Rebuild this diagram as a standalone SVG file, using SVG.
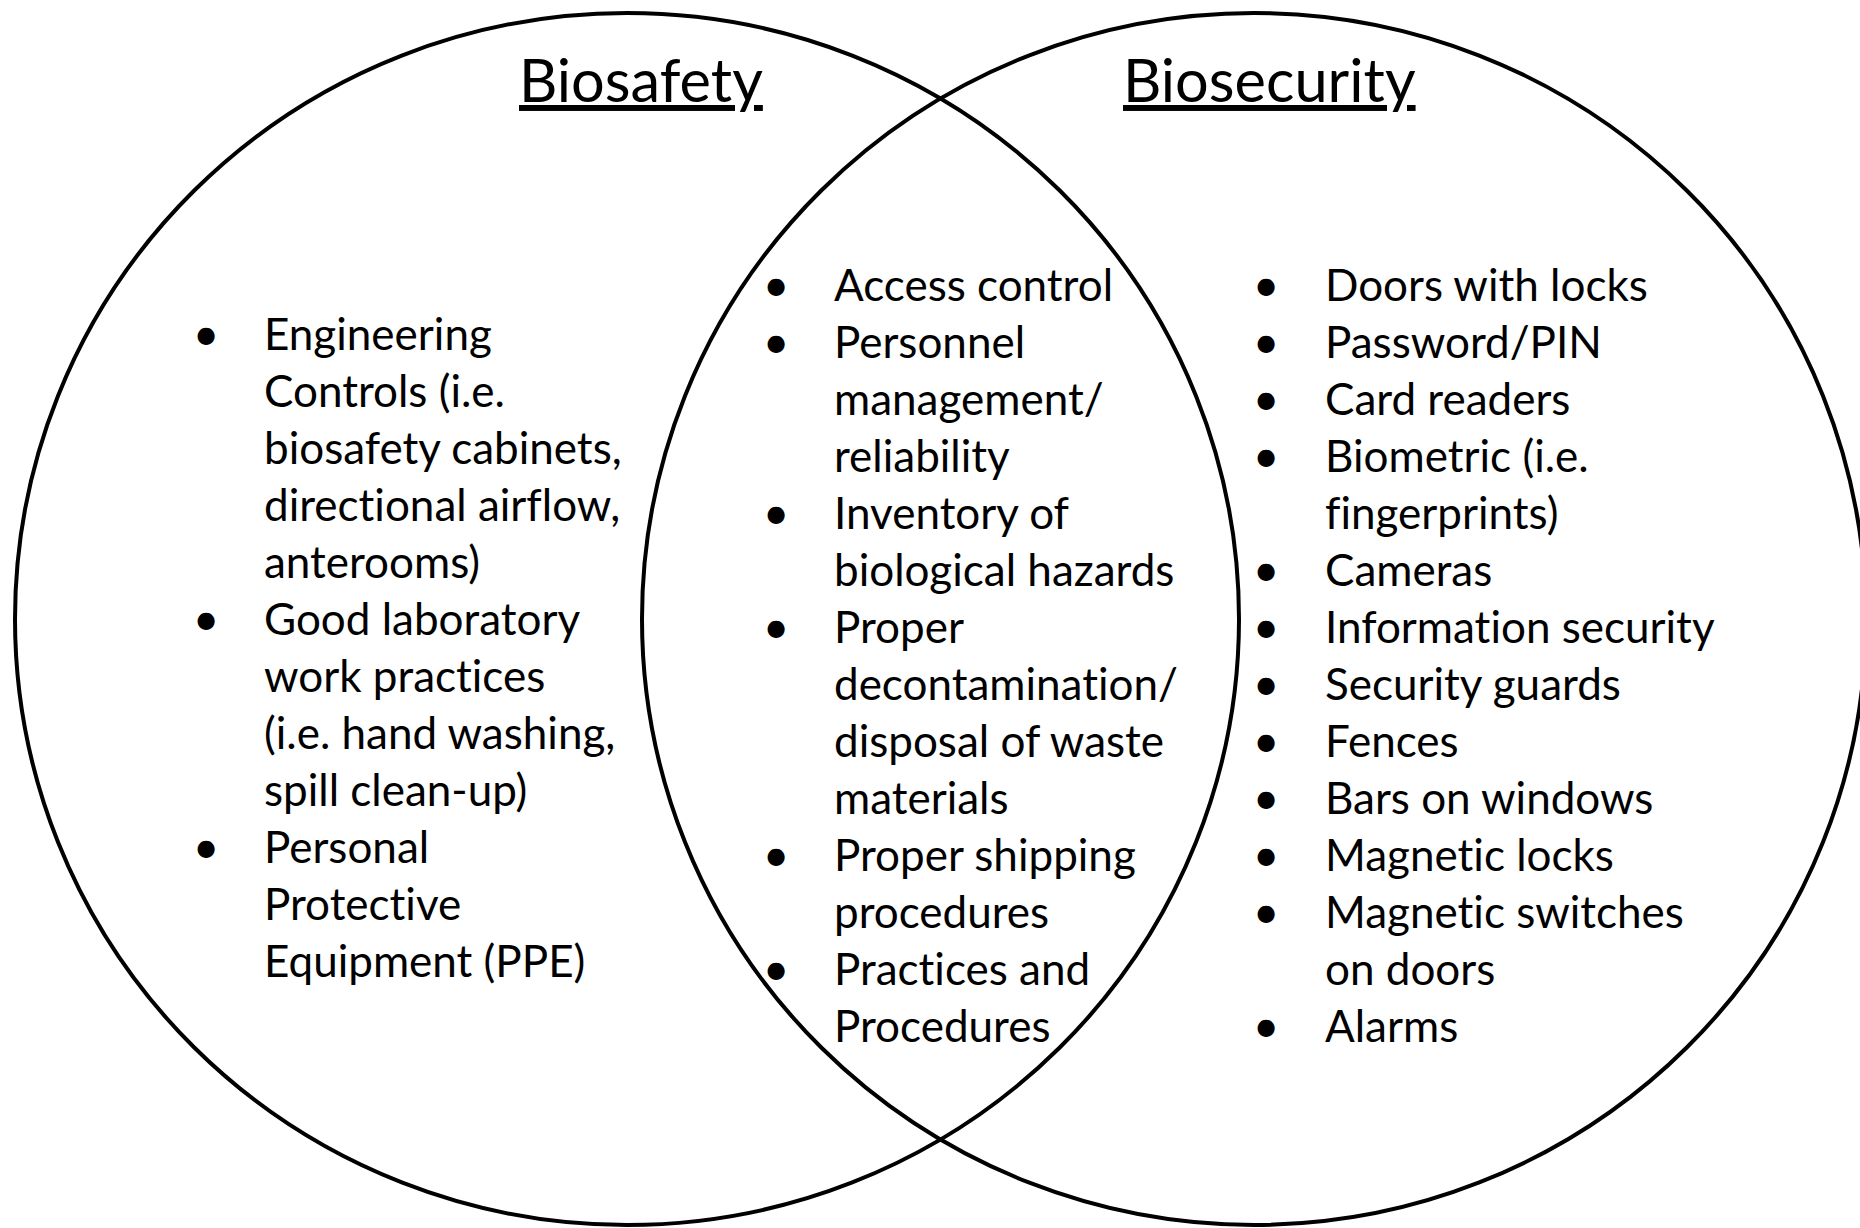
<svg xmlns="http://www.w3.org/2000/svg" width="1860" height="1228" viewBox="0 0 1860 1228">
<style>
text{font-variant-ligatures:none;font-feature-settings:"liga" 0,"clig" 0}
.c{fill:none;stroke:#000;stroke-width:4}
.t{font-family:Lato,"Liberation Sans",sans-serif;font-size:44px;fill:#000}
.b{font-family:Lato,"Liberation Sans",sans-serif;font-size:46px;fill:#000;text-anchor:middle}
.h{font-family:Lato,"Liberation Sans",sans-serif;font-size:59.5px;fill:#000;text-decoration:underline}
</style>
<rect width="1860" height="1228" fill="#fff"/>
<g id="biosafety">
<ellipse class="c" cx="627" cy="619" rx="612" ry="606"/>
<text class="h" x="519" y="102">Biosafety</text>
<text class="b" x="206" y="350">•</text>
<text class="b" x="206" y="635">•</text>
<text class="b" x="206" y="863">•</text>
<text class="t" x="264" y="350">Engineering</text>
<text class="t" x="264" y="407">Controls (i.e.</text>
<text class="t" x="264" y="464">biosafety cabinets,</text>
<text class="t" x="264" y="521">directional airflow,</text>
<text class="t" x="264" y="578">anterooms)</text>
<text class="t" x="264" y="635">Good laboratory</text>
<text class="t" x="264" y="692">work practices</text>
<text class="t" x="264" y="749">(i.e. hand washing,</text>
<text class="t" x="264" y="806">spill clean-up)</text>
<text class="t" x="264" y="863">Personal</text>
<text class="t" x="264" y="920">Protective</text>
<text class="t" x="264" y="977">Equipment (PPE)</text>
</g>
<g id="biosecurity">
<ellipse class="c" cx="1254" cy="619" rx="612" ry="606"/>
<text class="h" x="1123" y="102">Biosecurity</text>
<text class="b" x="1266" y="301">•</text>
<text class="b" x="1266" y="358">•</text>
<text class="b" x="1266" y="415">•</text>
<text class="b" x="1266" y="472">•</text>
<text class="b" x="1266" y="586">•</text>
<text class="b" x="1266" y="643">•</text>
<text class="b" x="1266" y="700">•</text>
<text class="b" x="1266" y="757">•</text>
<text class="b" x="1266" y="814">•</text>
<text class="b" x="1266" y="871">•</text>
<text class="b" x="1266" y="928">•</text>
<text class="b" x="1266" y="1042">•</text>
<text class="t" x="1325" y="301">Doors with locks</text>
<text class="t" x="1325" y="358">Password/PIN</text>
<text class="t" x="1325" y="415">Card readers</text>
<text class="t" x="1325" y="472">Biometric (i.e.</text>
<text class="t" x="1325" y="529">fingerprints)</text>
<text class="t" x="1325" y="586">Cameras</text>
<text class="t" x="1325" y="643">Information security</text>
<text class="t" x="1325" y="700">Security guards</text>
<text class="t" x="1325" y="757">Fences</text>
<text class="t" x="1325" y="814">Bars on windows</text>
<text class="t" x="1325" y="871">Magnetic locks</text>
<text class="t" x="1325" y="928">Magnetic switches</text>
<text class="t" x="1325" y="985">on doors</text>
<text class="t" x="1325" y="1042">Alarms</text>
</g>
<g id="overlap">
<text class="b" x="776" y="301">•</text>
<text class="b" x="776" y="358">•</text>
<text class="b" x="776" y="529">•</text>
<text class="b" x="776" y="643">•</text>
<text class="b" x="776" y="871">•</text>
<text class="b" x="776" y="985">•</text>
<text class="t" x="834" y="301">Access control</text>
<text class="t" x="834" y="358">Personnel</text>
<text class="t" x="834" y="415">management/</text>
<text class="t" x="834" y="472">reliability</text>
<text class="t" x="834" y="529">Inventory of</text>
<text class="t" x="834" y="586">biological hazards</text>
<text class="t" x="834" y="643">Proper</text>
<text class="t" x="834" y="700">decontamination/</text>
<text class="t" x="834" y="757">disposal of waste</text>
<text class="t" x="834" y="814">materials</text>
<text class="t" x="834" y="871">Proper shipping</text>
<text class="t" x="834" y="928">procedures</text>
<text class="t" x="834" y="985">Practices and</text>
<text class="t" x="834" y="1042">Procedures</text>
</g>
<g id="connectors"/>
</svg>
